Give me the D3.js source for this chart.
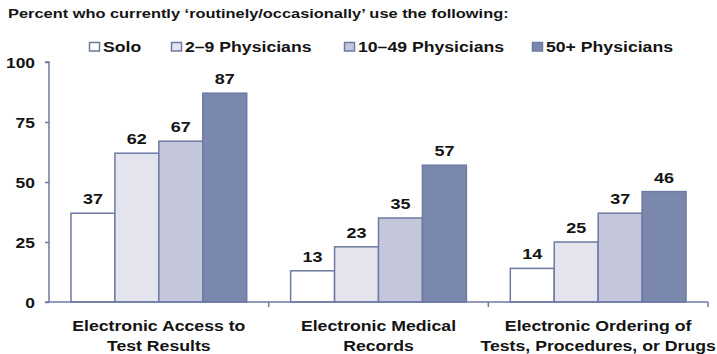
<!DOCTYPE html>
<html>
<head>
<meta charset="utf-8">
<script src="https://cdn.jsdelivr.net/npm/d3@7"></script>
<style>
  html, body { margin: 0; padding: 0; background: #fff; }
  svg { display: block; font-family: "Liberation Sans", Arial, sans-serif; font-weight: bold; }
</style>
</head>
<body>
<svg id="chart" width="717" height="354"></svg>
<script>
// Chart data
const categories = [
  ["Electronic Access to", "Test Results"],
  ["Electronic Medical", "Records"],
  ["Electronic Ordering of", "Tests, Procedures, or Drugs"]
];
const seriesNames = ["Solo", "2\u20139 Physicians", "10\u201349 Physicians", "50+ Physicians"];
const solo = [37, 13, 14];
const small = [62, 23, 25];
const medium = [67, 35, 37];
const large = [87, 57, 46];
const yTicks = [0, 25, 50, 75, 100];
const titleText = "Percent who currently \u2018routinely/occasionally\u2019 use the following:";

const series = [solo, small, medium, large];
const fills = ["#ffffff", "#e3e4ed", "#c4c7db", "#7b88ae"];
const strokeColor = "#6e7aa3";
const textColor = "#141414";

const svg = d3.select("#chart");
const margin = { left: 49, right: 9, top: 62, bottom: 52 };
const W = 717, H = 354;

// Widen bold glyphs horizontally by factor k
function widen(sel, k) {
  sel.each(function () {
    const w = this.getComputedTextLength();
    this.setAttribute("textLength", (w * k).toFixed(1));
    this.setAttribute("lengthAdjust", "spacingAndGlyphs");
  });
}

const x0 = d3.scaleBand().domain(d3.range(categories.length)).range([margin.left, W - margin.right]).padding(0);
const x1 = d3.scaleBand().domain(d3.range(series.length))
  .range([x0.bandwidth() * 0.1, x0.bandwidth() * 0.9]).padding(0);
const y = d3.scaleLinear().domain([0, 100]).range([H - margin.bottom, margin.top]);

// Title
svg.append("text").attr("x", 8).attr("y", 18)
  .attr("font-size", 13).attr("fill", textColor).text(titleText)
  .call(widen, 1.26);

// Legend
const legendX = [89, 171, 344, 532];
const legend = svg.append("g");
seriesNames.forEach((name, i) => {
  legend.append("rect").attr("x", legendX[i] + 0.5).attr("y", 42.5).attr("width", 10).attr("height", 8.5)
    .attr("fill", fills[i]).attr("stroke", strokeColor).attr("stroke-width", 1.5);
  legend.append("text").attr("x", legendX[i] + 14).attr("y", 52)
    .attr("font-size", 14).attr("fill", textColor).text(name)
    .call(widen, 1.26);
});

// Bars and value labels
const groups = svg.append("g").selectAll("g").data(categories).join("g")
  .attr("transform", (d, i) => `translate(${x0(i)},0)`);
groups.each(function (d, ci) {
  const g = d3.select(this);
  series.forEach((vals, si) => {
    const v = vals[ci];
    g.append("rect")
      .attr("x", x1(si)).attr("y", y(v))
      .attr("width", x1.bandwidth()).attr("height", y(0) - y(v))
      .attr("fill", fills[si]).attr("stroke", strokeColor).attr("stroke-width", 1.5);
    g.append("text")
      .attr("x", x1(si) + x1.bandwidth() / 2).attr("y", y(v) - 9)
      .attr("text-anchor", "middle").attr("font-size", 15).attr("fill", textColor).text(v)
      .call(widen, 1.2);
  });
});

// Y axis
const yAxis = svg.append("g").attr("transform", `translate(${margin.left},0)`)
  .call(d3.axisLeft(y).tickValues(yTicks).tickSize(4).tickPadding(10));
yAxis.selectAll("path, line").attr("stroke", strokeColor).attr("stroke-width", 1.5);
yAxis.select(".domain").attr("d", `M-4,${y(100)}H0V${y(0)}`);
yAxis.selectAll("text").attr("font-size", 14.5).attr("font-weight", "bold")
  .attr("font-family", "Liberation Sans, Arial, sans-serif").attr("fill", textColor)
  .attr("dy", "0.36em")
  .call(widen, 1.2);

// X axis
const xAxis = svg.append("g").attr("transform", `translate(0,${y(0)})`);
xAxis.append("line").attr("x1", margin.left - 4).attr("x2", W - margin.right)
  .attr("stroke", strokeColor).attr("stroke-width", 1.5);
const bounds = d3.range(categories.length).map(i => x0(i) + x0.bandwidth());
xAxis.selectAll("line.tick").data(bounds).join("line").attr("class", "tick")
  .attr("x1", d => d).attr("x2", d => d).attr("y1", 0).attr("y2", 5)
  .attr("stroke", strokeColor).attr("stroke-width", 1.5);

// Category labels
categories.forEach((lines, i) => {
  lines.forEach((line, li) => {
    svg.append("text").attr("text-anchor", "middle").attr("font-size", 15.5).attr("fill", textColor)
      .attr("x", x0(i) + x0.bandwidth() / 2).attr("y", 331 + li * 20).text(line)
      .call(widen, 1.14);
  });
});
</script>
</body>
</html>
